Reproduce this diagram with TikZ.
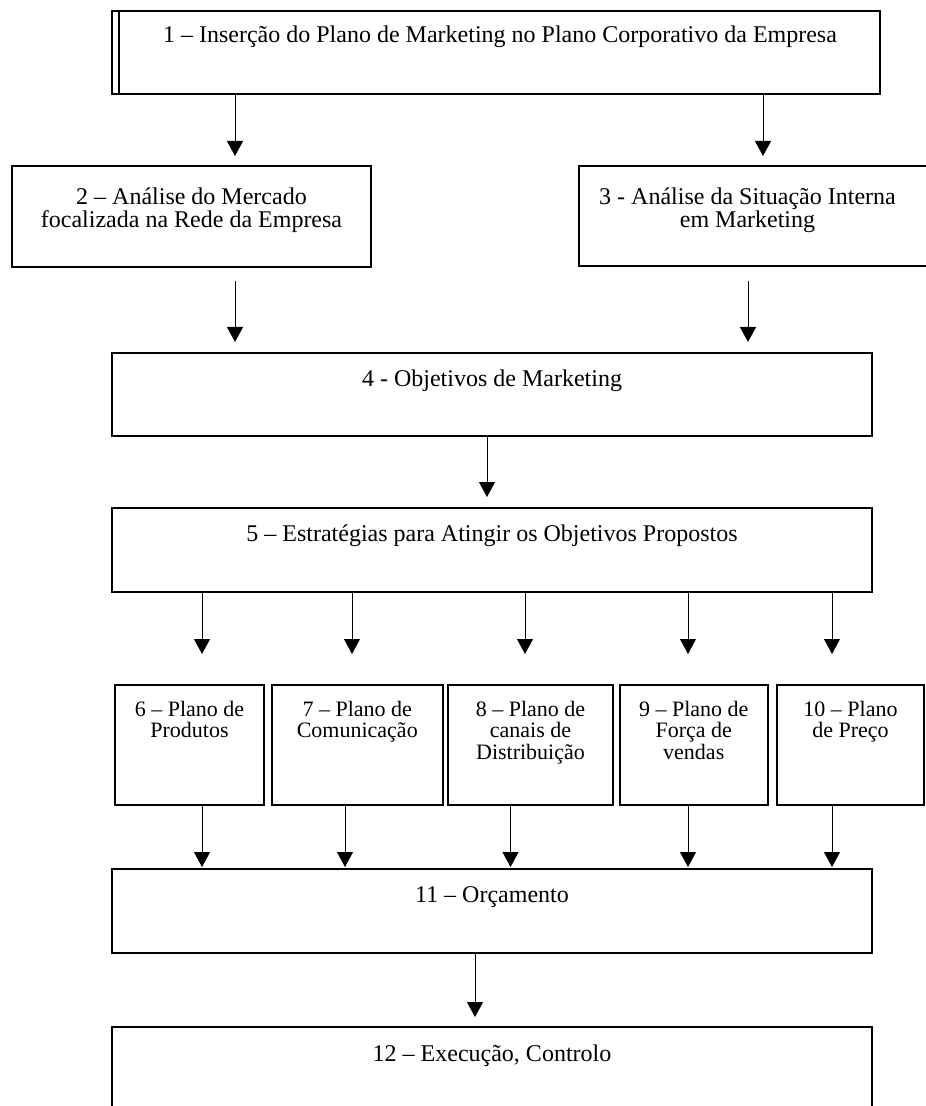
\documentclass[tikz,border=0pt]{standalone}
\usepackage{fontspec}
\setmainfont{Liberation Serif}
\usetikzlibrary{arrows.meta,fit,calc}
\lineskiplimit=-100pt
\begin{document}
\begin{tikzpicture}[x=0.5pt,y=-0.5pt,
  box/.style={draw, line width=1pt, inner sep=0pt},
  txt/.style={anchor=north, inner sep=0pt, align=center, font=\fontsize{12}{11.65}\selectfont},
  small/.style={txt, font=\fontsize{11}{10.75}\selectfont},
  arr/.style={line width=0.5pt, -{Triangle[length=7.5pt,width=8pt]}}]
\useasboundingbox (0,0) rectangle (925,1106);
% boxes
\node[box, fit={(112,11) (880,94)}] (b1) {};
\draw[line width=1pt] ([xshift=4pt]b1.north west) -- ([xshift=4pt]b1.south west);
\node[box, fit={(12,166) (371,267)}] (b2) {};
\node[box, fit={(579,166) (935,266)}] (b3) {};
\node[box, fit={(112,353) (872,436)}] (b4) {};
\node[box, fit={(112,508) (872,592)}] (b5) {};
\node[box, fit={(115,685) (264,805)}] (b6) {};
\node[box, fit={(271.5,685) (443,805)}] (b7) {};
\node[box, fit={(448,685) (613,805)}] (b8) {};
\node[box, fit={(619.5,685) (768,805)}] (b9) {};
\node[box, fit={(777,685) (924,805)}] (b10) {};
\node[box, fit={(112,869) (872,953)}] (b11) {};
\node[box, fit={(112,1027) (872,1125)}] (b12) {};
% texts
\node[txt] (t1) at ($(b1.north)+(4,0)$) {\rule{0pt}{16pt}1 – Inserção do Plano de Marketing no Plano Corporativo da Empresa};
\node[txt] (t2) at (b2.north) {\rule{0pt}{19.5pt}2 – Análise do Mercado\\focalizada na Rede da Empresa};
\node[txt] (t3) at ($(b3.north west)+(169.5,0)$) {\rule{0pt}{19.5pt}3 - Análise da Situação Interna\\em Marketing};
\node[txt] (t4) at (b4.north) {\rule{0pt}{17pt}4 - Objetivos de Marketing};
\node[txt] (t5) at (b5.north) {\rule{0pt}{17pt}5 – Estratégias para Atingir os Objetivos Propostos};
\node[small] (t6) at (b6.north) {\rule{0pt}{16pt}6 – Plano de\\Produtos};
\node[small] (t7) at (b7.north) {\rule{0pt}{16pt}7 – Plano de\\Comunicação};
\node[small] (t8) at (b8.north) {\rule{0pt}{16pt}8 – Plano de\\canais de\\Distribuição};
\node[small] (t9) at (b9.north) {\rule{0pt}{16pt}9 – Plano de\\Força de\\vendas};
\node[small] (t10) at (b10.north) {\rule{0pt}{16pt}10 – Plano\\de Preço};
\node[txt] (t11) at (b11.north) {\rule{0pt}{17pt}11 – Orçamento};
\node[txt] (t12) at (b12.north) {\rule{0pt}{17.5pt}12 – Execução, Controlo};
% arrow x positions
\coordinate (xA) at (235,0);
\coordinate (xB) at (763,0);
\coordinate (xC) at (748,0);
\coordinate (xD) at (487,0);
\coordinate (xE) at (475,0);
\coordinate (u6) at (202,0);
\coordinate (u7) at (352,0);
\coordinate (u8) at (525,0);
\coordinate (u9) at (688,0);
\coordinate (u10) at (832,0);
\coordinate (l6) at (202,0);
\coordinate (l7) at (345,0);
\coordinate (l8) at (510.5,0);
\coordinate (l9) at (688,0);
\coordinate (l10) at (832,0);
% connectors
\draw[arr, shorten >=4.5pt] (b1.south -| xA) -- (b2.north -| xA);
\draw[arr, shorten >=4.5pt] (b1.south -| xB) -- (b3.north -| xB);
\draw[arr, shorten <=6.5pt, shorten >=5pt] (b2.south -| xA) -- (b4.north -| xA);
\draw[arr, shorten <=7pt, shorten >=5pt] (b3.south -| xC) -- (b4.north -| xC);
\draw[arr, shorten >=5pt] (b4.south -| xD) -- (b5.north -| xD);
\draw[arr, shorten >=15pt] (b5.south -| u6) -- (b6.north -| u6);
\draw[arr, shorten >=15pt] (b5.south -| u7) -- (b7.north -| u7);
\draw[arr, shorten >=15pt] (b5.south -| u8) -- (b8.north -| u8);
\draw[arr, shorten >=15pt] (b5.south -| u9) -- (b9.north -| u9);
\draw[arr, shorten >=15pt] (b5.south -| u10) -- (b10.north -| u10);
\draw[arr, shorten >=0.5pt] (b6.south -| l6) -- (b11.north -| l6);
\draw[arr, shorten >=0.5pt] (b7.south -| l7) -- (b11.north -| l7);
\draw[arr, shorten >=0.5pt] (b8.south -| l8) -- (b11.north -| l8);
\draw[arr, shorten >=0.5pt] (b9.south -| l9) -- (b11.north -| l9);
\draw[arr, shorten <=-1pt, shorten >=0.5pt] (b10.south -| l10) -- (b11.north -| l10);
\draw[arr, shorten >=4.5pt] (b11.south -| xE) -- (b12.north -| xE);
\end{tikzpicture}
\end{document}
